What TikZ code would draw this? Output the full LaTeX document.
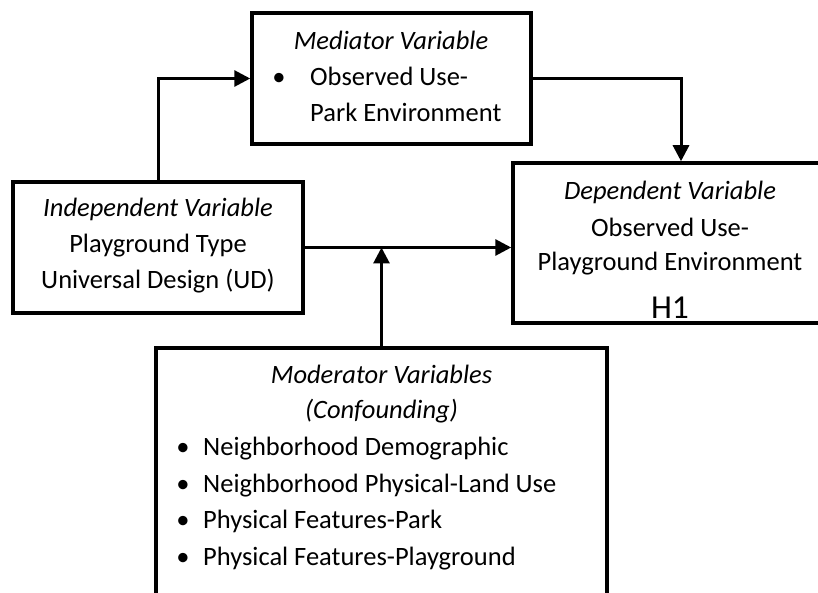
\documentclass[tikz,border=0pt]{standalone}
\usepackage{fontspec}
\setmainfont{Carlito}
\usetikzlibrary{arrows.meta}
\begin{document}
\begin{tikzpicture}[x=1pt,y=-1pt,
 box/.style={draw, line width=3.5pt, inner sep=0pt},
 txt/.style={inner sep=0pt, font=\fontsize{26.5}{36}\selectfont},
 ttl/.style={txt, font=\fontsize{26.5}{36}\selectfont\itshape},
 arr/.style={line width=3pt, -{Triangle[length=16pt,width=16pt]}}]
\useasboundingbox (0,0) rectangle (818,593);
% boxes
\node[box, minimum width=279pt, minimum height=131pt] (med) at (391.5,78.5) {};
\node[box, minimum width=290pt, minimum height=131pt] (ind) at (158,247.5) {};
\node[box, minimum width=317pt, minimum height=160pt] (dep) at (671.5,243) {};
\node[box, minimum width=451pt, minimum height=260pt] (mod) at (381.5,478) {};
% mediator text
\node[ttl, anchor=base] (medT) at (391,50) {Mediator Variable};
\node[txt, anchor=base] (medB) at (279,86) {•};
\node[txt, anchor=base west] (medL1) at (310,86) {Observed Use-};
\node[txt, anchor=base west] (medL2) at (310,122) {Park Environment};
% independent text
\node[ttl, anchor=base] (indT) at (158,217) {Independent Variable};
\node[txt, anchor=base] (indL1) at (158,253) {Playground Type};
\node[txt, anchor=base] (indL2) at (158,288) {Universal Design (UD)};
% dependent text
\node[ttl, anchor=base] (depT) at (670,200) {Dependent Variable};
\node[txt, anchor=base] (depL1) at (670,237) {Observed Use-};
\node[txt, anchor=base] (depL2) at (670,271) {Playground Environment};
\node[txt, anchor=base, font=\fontsize{33.5}{40}\selectfont] (depH) at (670,318) {H1};
% moderator text
\node[ttl, anchor=base] (modT1) at (381.5,383) {Moderator Variables};
\node[ttl, anchor=base] (modT2) at (381.5,418) {(Confounding)};
\foreach \y/\t [count=\i] in {455/Neighborhood Demographic, 492/Neighborhood Physical-Land Use, 528/Physical Features-Park, 565/Physical Features-Playground}{
  \node[txt, anchor=base] (modB\i) at (183,\y) {•};
  \node[txt, anchor=base west] (modL\i) at (203,\y) {\t};
}
% connectors
\coordinate (k1) at (681,78);
\draw[arr] (ind.north) |- (med.west);
\draw[arr] (med.east) -| (dep.north -| k1);
\draw[arr] (ind.east) -- (ind.east -| dep.west);
\draw[arr] (mod.north) -- (mod.north |- ind.east);
\end{tikzpicture}
\end{document}
